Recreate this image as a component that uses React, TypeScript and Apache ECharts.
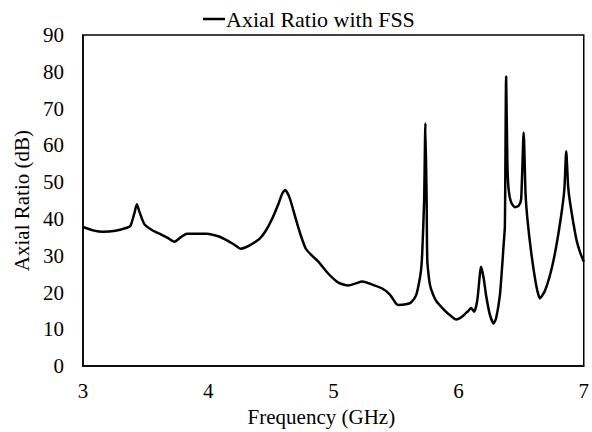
import React, { useEffect, useRef } from "react";
import * as echarts from "echarts";

const frequency = [
  3.0, 3.08, 3.16, 3.26, 3.35, 3.38, 3.41, 3.43, 3.45, 3.49, 3.55, 3.61, 3.67, 3.73,
  3.78, 3.83, 3.99, 4.08, 4.15, 4.21, 4.26, 4.3, 4.35, 4.41, 4.46, 4.51, 4.56, 4.59,
  4.615, 4.65, 4.7, 4.74, 4.78, 4.83, 4.88, 4.96, 5.04, 5.12, 5.18, 5.23, 5.3, 5.39,
  5.45, 5.5, 5.52, 5.58, 5.62, 5.66, 5.68, 5.7, 5.71, 5.725, 5.735, 5.745, 5.75, 5.765,
  5.78, 5.82, 5.89, 5.94, 5.98, 6.03, 6.08, 6.1, 6.125, 6.15, 6.18, 6.2, 6.22, 6.25,
  6.28, 6.3, 6.33, 6.35, 6.36, 6.37, 6.38, 6.39, 6.4, 6.42, 6.45, 6.48, 6.5, 6.52,
  6.535, 6.55, 6.58, 6.62, 6.65, 6.69, 6.74, 6.78, 6.82, 6.845, 6.86, 6.875, 6.89, 6.94,
  6.97, 7.0,
];

const axialRatio = [
  37.8, 36.9, 36.5, 36.8, 37.6, 38.2, 41.5, 44.0, 42.0, 38.6, 37.0, 36.0, 35.0, 33.8,
  35.0, 36.0, 36.0, 35.3, 34.2, 33.0, 31.9, 32.3, 33.2, 34.6, 36.8, 40.0, 44.0, 46.8,
  47.9, 45.8, 40.0, 35.5, 31.9, 30.0, 28.4, 25.1, 22.7, 21.9, 22.5, 23.0, 22.3, 21.1,
  19.5, 17.0, 16.6, 16.8, 17.3, 19.2, 21.9, 26.0, 31.0, 45.0, 66.0, 45.0, 29.0, 23.5,
  21.0, 17.8, 15.1, 13.6, 12.7, 13.5, 15.1, 15.8, 14.8, 18.0, 27.0, 24.0, 19.2, 14.0,
  11.6, 13.0, 19.2, 28.0, 33.0, 38.0, 78.7, 55.0, 48.0, 44.5, 43.2, 43.6, 45.4, 63.5,
  47.0, 40.0, 31.0, 22.0, 18.4, 20.5, 26.0, 32.5, 41.0, 48.0, 58.4, 49.0, 44.6, 34.6,
  31.0, 28.4,
];

const xTicks = { min: 3, max: 7, interval: 1 };
const yTicks = { min: 0, max: 90, interval: 10 };
const seriesName = "Axial Ratio with FSS";
const xTitle = "Frequency (GHz)";
const yTitle = "Axial Ratio (dB)";

export default function App() {
  const ref = useRef<HTMLDivElement>(null);
  useEffect(() => {
    if (!ref.current) return;
    const chart = echarts.init(ref.current, null, { renderer: "svg" });
    const font = "'Liberation Serif', 'Times New Roman', serif";
    const data = frequency.map((f, i) => [f, axialRatio[i]]);
    chart.setOption({
      animation: false,
      textStyle: { fontFamily: font, color: "#000" },
      legend: {
        top: 3,
        left: 198,
        data: [{ name: seriesName, icon: "rect" }],
        itemWidth: 22,
        itemHeight: 2.5,
        itemGap: 2,
        textStyle: { fontFamily: font, fontSize: 22, color: "#000", padding: [0, 0, 0, -4] },
      },
      grid: {
        left: 83,
        top: 35,
        right: 6,
        bottom: 64,
        show: true,
        borderColor: "#000",
        borderWidth: 1.5,
        backgroundColor: "transparent",
      },
      xAxis: {
        type: "value",
        ...xTicks,
        name: xTitle,
        nameLocation: "middle",
        nameGap: 28,
        nameTextStyle: { fontFamily: font, fontSize: 21, color: "#000", padding: [0, 24, 0, 0] },
        axisLine: { show: true, onZero: false, lineStyle: { color: "#000", width: 1.5 } },
        axisTick: { show: false },
        splitLine: { show: false },
        axisLabel: { margin: 14, fontFamily: font, fontSize: 21, color: "#000" },
      },
      yAxis: {
        type: "value",
        ...yTicks,
        name: yTitle,
        nameLocation: "middle",
        nameGap: 50,
        nameTextStyle: { fontFamily: font, fontSize: 21, color: "#000" },
        axisLine: { show: true, lineStyle: { color: "#000", width: 1.5 } },
        axisTick: { show: false },
        splitLine: { show: false },
        axisLabel: { margin: 19, fontFamily: font, fontSize: 21, color: "#000" },
      },
      series: [
        {
          name: seriesName,
          type: "line",
          data,
          showSymbol: false,
          symbol: "none",
          smooth: 0.2,
          lineStyle: { color: "#000", width: 2.5 },
          itemStyle: { color: "#000" },
        },
      ],
    });
    return () => chart.dispose();
  }, []);
  return <div ref={ref} style={{ width: 592, height: 432, position: "absolute", left: 0, top: 0 }} />;
}
